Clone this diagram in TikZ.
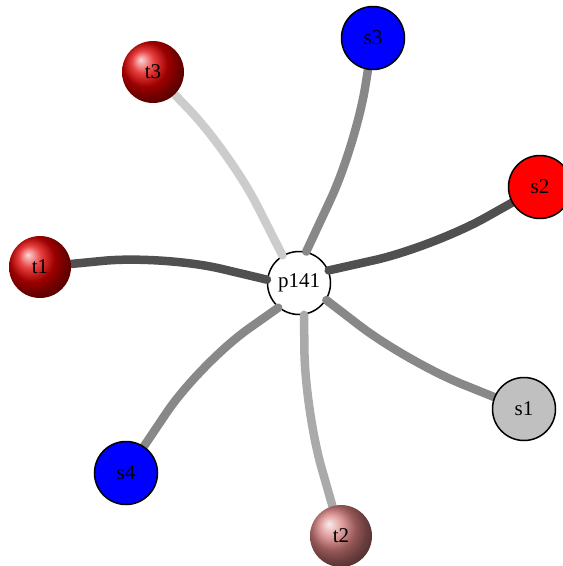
\documentclass[tikz,border=0pt]{standalone}
\usepackage{fontspec}
\setmainfont{Liberation Serif}
\usepackage{xcolor}
\definecolor{edgedark}{RGB}{80, 80, 80}
\definecolor{edgemid}{RGB}{136, 136, 136}
\definecolor{edgelight}{RGB}{170, 170, 170}
\definecolor{edgepale}{RGB}{204, 204, 204}
\definecolor{rosy}{RGB}{215, 125, 125}
\definecolor{deepred}{RGB}{225, 0, 0}
\usepackage{tikz}
\pgfdeclarelayer{front}
\pgfsetlayers{main,front}

\begin{document}
\begin{tikzpicture}[x=1pt, y=-1pt,
    vertex/.style={circle, draw=black, line width=1.5pt, minimum size=63pt, inner sep=0pt, font=\fontsize{21}{24}\selectfont},
    ball/.style={circle, shading=ball, ball color=#1, minimum size=62pt, inner sep=0pt, font=\fontsize{21}{24}\selectfont},
    link/.style={line width=8.5pt, line cap=round, rounded corners=60pt}]
    \clip (0,0) rectangle (563,566);

    % Centre vertex
    \node[vertex, fill=white] (p141) at (299,283) {p141};

    % Outer vertices
    \begin{pgfonlayer}{front}
        \node[vertex, fill=blue] (s3) at (373,38) {s3};
        \node[vertex, fill=red] (s2) at (540,187) {s2};
        \node[vertex, fill={rgb,255:red,192;green,192;blue,192}] (s1) at (524,409) {s1};
        \node[vertex, fill=blue] (s4) at (126,473) {s4};
        \node[ball=deepred] (t3) at (153,72) {t3};
        \node[ball=deepred] (t1) at (40,267) {t1};
        \node[ball=rosy] (t2) at (341,536) {t2};
    \end{pgfonlayer}

    % Links into p141
    \draw[link, edgepale] (t3) -- (230,152) -- (p141.121);
    \draw[link, edgemid] (s3) -- (356,145) -- (p141.77);
    \draw[link, edgedark] (s2) -- (433,247) -- (p141.23);
    \draw[link, edgedark] (t1) -- (163,255) -- (p141.174);
    \draw[link, edgemid] (s1) -- (407,362) -- (p141.-32);
    \draw[link, edgemid] (s4) -- (200,363) -- (p141.-130);
    \draw[link, edgelight] (t2) -- (305,410) -- (p141.-81);
\end{tikzpicture}
\end{document}
